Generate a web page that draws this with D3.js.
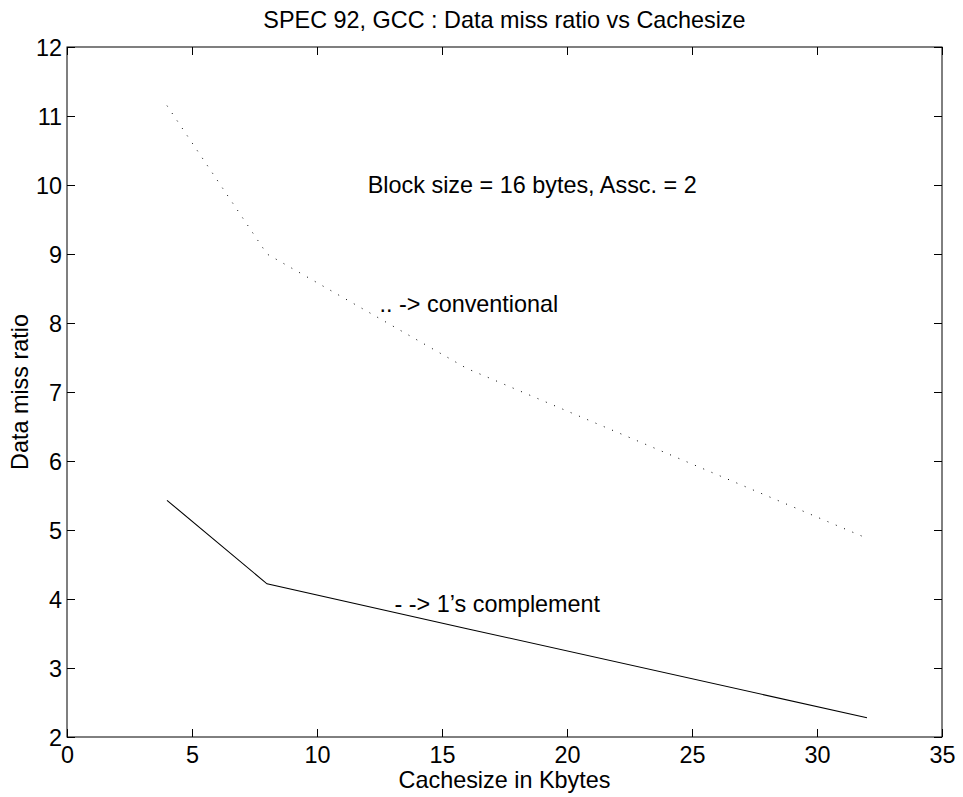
<!DOCTYPE html>
<html>
<head>
<meta charset="utf-8">
<script src="https://cdn.jsdelivr.net/npm/d3@7"></script>
<style>
    html, body { margin: 0; padding: 0; background: #fff; }
    svg { display: block; }
    text { font-family: "Liberation Sans", Arial, Helvetica, sans-serif; fill: #000; }
</style>
</head>
<body>
<svg id="chart"></svg>
<script>
// cache sizes (Kbytes) and data miss ratios
var cacheSizes = [4, 8, 16, 32];
var conventional = [11.15, 9.0, 7.34, 4.88];
var onesComplement = [5.43, 4.22, 3.57, 2.28];

var xTicks = [0, 5, 10, 15, 20, 25, 30, 35];
var yTicks = [2, 3, 4, 5, 6, 7, 8, 9, 10, 11, 12];

// annotations placed in data coordinates (x, y at text baseline)
var notes = [
    { x: 12.03, y: 9.89, text: 'Block size = 16 bytes, Assc. = 2' },
    { x: 12.5, y: 8.16, text: '.. -> conventional' },
    { x: 13.1, y: 3.81, text: '- -> 1\u2019s complement' }
];

(function () {
    'use strict';

    var width = 963, height = 797;
    var margin = { top: 47, right: 21, bottom: 60, left: 67 };
    var fontSize = 23.4;
    var tickLen = 8;

    var svg = d3.select('#chart')
        .attr('width', width)
        .attr('height', height);

    var x = d3.scaleLinear().domain([0, 35]).range([margin.left, width - margin.right]);
    var y = d3.scaleLinear().domain([2, 12]).range([height - margin.bottom, margin.top]);

    var x0 = x.range()[0], x1 = x.range()[1];
    var y0 = y.range()[0], y1 = y.range()[1];

    // box
    svg.append('rect')
        .attr('x', x0).attr('y', y1)
        .attr('width', x1 - x0).attr('height', y0 - y1)
        .attr('fill', 'none')
        .attr('stroke', '#000')
        .attr('stroke-width', 1);

    // axes: ticks point inward on all four sides
    var bottom = svg.append('g')
        .attr('transform', 'translate(0,' + y0 + ')')
        .call(d3.axisBottom(x).tickValues(xTicks).tickSize(-tickLen).tickPadding(9));
    var top = svg.append('g')
        .attr('transform', 'translate(0,' + y1 + ')')
        .call(d3.axisTop(x).tickValues(xTicks).tickSize(-tickLen).tickFormat(''));
    var left = svg.append('g')
        .attr('transform', 'translate(' + x0 + ',0)')
        .call(d3.axisLeft(y).tickValues(yTicks).tickSize(-tickLen).tickPadding(5));
    var right = svg.append('g')
        .attr('transform', 'translate(' + x1 + ',0)')
        .call(d3.axisRight(y).tickValues(yTicks).tickSize(-tickLen).tickFormat(''));

    [bottom, top, left, right].forEach(function (g) {
        g.select('.domain').remove();
        g.selectAll('line').attr('stroke', '#000');
        g.selectAll('text')
            .attr('font-size', fontSize + 'px')
            .attr('font-family', null);
    });
    bottom.selectAll('text').attr('dy', '0.71em');
    left.selectAll('text').attr('dy', '0.35em');

    // series
    var pts = function (vals) {
        return cacheSizes.map(function (c, i) { return [c, vals[i]]; });
    };
    var line = d3.line()
        .x(function (d) { return x(d[0]); })
        .y(function (d) { return y(d[1]); });

    svg.append('path')
        .datum(pts(conventional))
        .attr('d', line)
        .attr('fill', 'none')
        .attr('stroke', '#000')
        .attr('stroke-width', 1)
        .attr('stroke-dasharray', '1,8');

    svg.append('path')
        .datum(pts(onesComplement))
        .attr('d', line)
        .attr('fill', 'none')
        .attr('stroke', '#000')
        .attr('stroke-width', 1.1);

    // annotations
    svg.selectAll('.note')
        .data(notes)
        .enter()
        .append('text')
        .attr('class', 'note')
        .attr('x', function (d) { return x(d.x); })
        .attr('y', function (d) { return y(d.y); })
        .attr('font-size', fontSize + 'px')
        .text(function (d) { return d.text; });

    // title and axis labels
    var cx = (x0 + x1) / 2;
    svg.append('text')
        .attr('x', cx).attr('y', 28)
        .attr('text-anchor', 'middle')
        .attr('font-size', fontSize + 'px')
        .text('SPEC 92, GCC : Data miss ratio vs Cachesize');

    svg.append('text')
        .attr('x', cx).attr('y', 788)
        .attr('text-anchor', 'middle')
        .attr('font-size', fontSize + 'px')
        .text('Cachesize in Kbytes');

    svg.append('text')
        .attr('transform', 'translate(28,' + ((y0 + y1) / 2) + ') rotate(-90)')
        .attr('text-anchor', 'middle')
        .attr('font-size', fontSize + 'px')
        .text('Data miss ratio');
})();
</script>
</body>
</html>
